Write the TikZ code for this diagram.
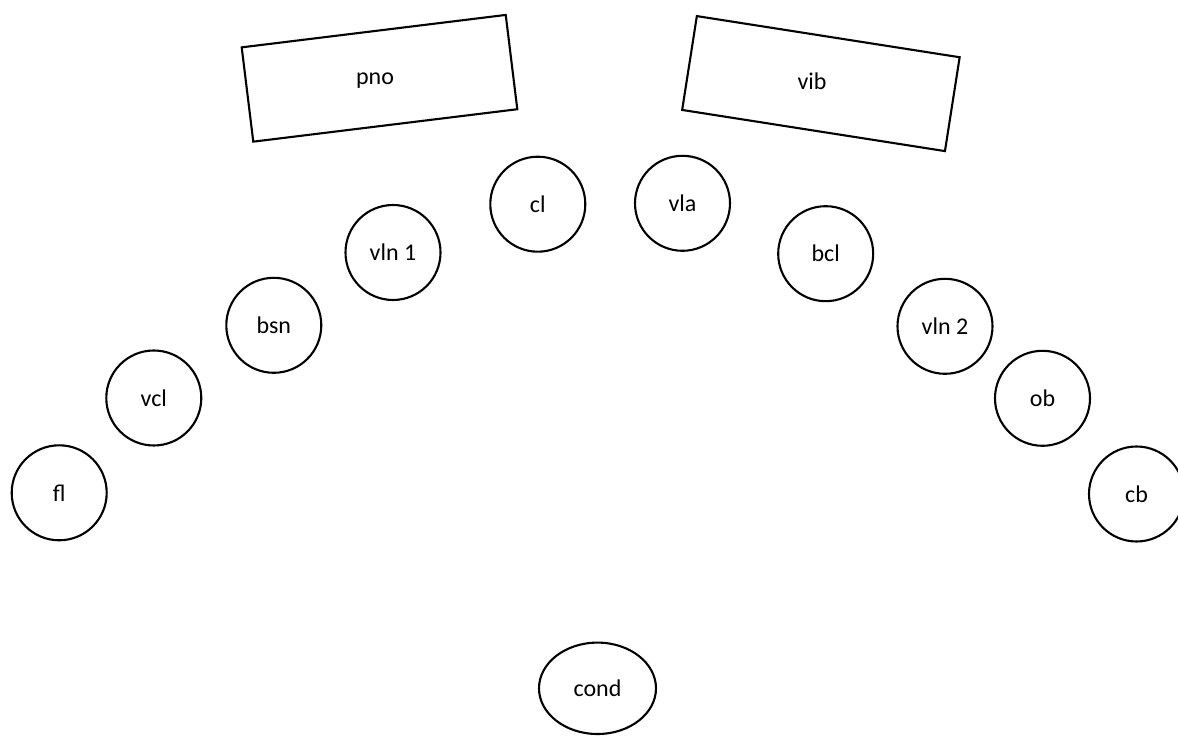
\documentclass[tikz,border=0pt]{standalone}
\usepackage{fontspec}
\setmainfont{Carlito}
\usetikzlibrary{shapes.geometric}
\begin{document}
\begin{tikzpicture}[x=0.5pt,y=-0.5pt,
  seat/.style={draw=black,line width=1.05pt,circle,minimum size=47.5pt,inner sep=0pt,font=\fontsize{12pt}{14pt}\selectfont},
  instr/.style={draw=black,line width=1.05pt,rectangle,minimum width=133pt,minimum height=47.5pt,inner sep=0pt},
  lbl/.style={font=\fontsize{12pt}{14pt}\selectfont,inner sep=0pt},
  condst/.style={draw=black,line width=1.05pt,ellipse,minimum width=58.5pt,minimum height=45.7pt,inner sep=0pt,font=\fontsize{12pt}{14pt}\selectfont}]
\useasboundingbox (0,0) rectangle (1178,737);
\node[instr,rotate=7] (pno) at (379.5,78.3) {};
\node[lbl] (pnolbl) at (375,81) {pno};
\node[instr,rotate=-8.9] (vib) at (820.9,83.6) {};
\node[lbl] (viblbl) at (812,81) {vib};
\node[seat] (fl) at (59.2,492.8) {fl};
\node[seat] (vcl) at (153.8,398) {vcl};
\node[seat] (bsn) at (273.8,325.3) {bsn};
\node[seat] (vln1) at (393,252.5) {vln 1};
\node[seat] (cl) at (537.8,204.2) {cl};
\node[seat] (vla) at (682.5,203.3) {vla};
\node[seat] (bcl) at (825.7,253.7) {bcl};
\node[seat] (vln2) at (945,326.3) {vln 2};
\node[seat] (ob) at (1042.5,398.3) {ob};
\node[seat] (cb) at (1136.5,494) {cb};
\node[condst] (cond) at (597.5,688.3) {cond};
\end{tikzpicture}
\end{document}
